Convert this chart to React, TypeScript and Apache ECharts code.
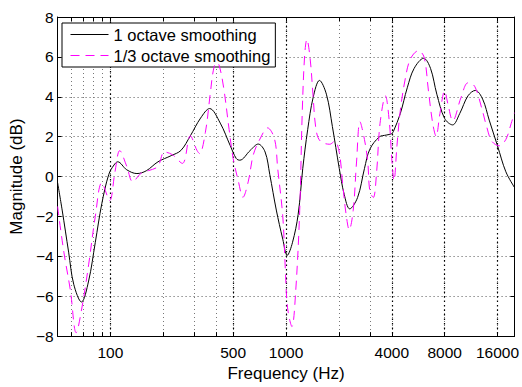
import React, { useEffect, useRef } from "react";
import * as echarts from "echarts";

// 1 octave smoothing (frequency in Hz, magnitude in dB)
const freqOct = [50, 53.1, 57.8, 61.8, 68.4, 75.1, 82, 89.3, 97.8, 104.8, 110, 123.8, 141.5, 160, 186.6, 222, 252, 285, 326, 367, 422, 481, 521, 545, 625, 694, 760, 808, 880, 958, 1015, 1087, 1172, 1245, 1328, 1427, 1550, 1697, 1836, 2010, 2143, 2304, 2555, 2795, 3000, 3400, 3720, 4000, 4090, 4474, 4900, 5360, 6080, 6650, 7220, 8000, 8880, 9750, 10870, 11970, 13170, 14350, 16000, 17850, 20000];
const magOct = [-0.3, -1.68, -3.79, -5.4, -6.29, -5.24, -3.3, -1.36, 0.1, 0.58, 0.74, 0.34, 0.15, 0.29, 0.74, 1.05, 1.31, 2.04, 2.93, 3.41, 2.68, 1.55, 0.9, 0.82, 1.31, 1.63, 1.23, 0.1, -1.68, -3.14, -3.95, -3.32, -1.9, 0.4, 2.35, 3.97, 4.82, 4.13, 2.51, 0.4, -0.89, -1.62, -1.05, 0.4, 1.37, 1.99, 2.08, 2.15, 2.27, 3.16, 4.45, 5.42, 5.93, 5.42, 4.13, 2.91, 2.59, 3.16, 4.05, 4.32, 3.88, 2.83, 1.54, 0.24, -0.55];

// 1/3 octave smoothing
const freqThird = [50, 54.3, 59.2, 63.8, 68.9, 75.1, 82, 89.3, 99, 106, 113, 124, 134, 150, 165, 186, 203, 225, 257, 285, 311, 322, 347, 370, 385, 400, 415, 441, 474, 500, 535, 568, 610, 650, 710, 785, 860, 896, 958, 990, 1019, 1080, 1135, 1196, 1236, 1276, 1314, 1372, 1427, 1482, 1566, 1776, 1893, 2010, 2102, 2195, 2290, 2412, 2520, 2636, 2795, 2920, 3000, 3140, 3280, 3430, 3680, 3880, 4000, 4120, 4280, 4474, 4780, 5110, 5670, 6110, 6470, 6840, 7150, 7520, 8000, 8350, 8900, 9920, 10870, 11850, 12960, 13870, 14830, 16350, 17850, 19150, 20000];
const magThird = [-1.5, -3.79, -5.73, -7.83, -6.54, -4.43, -2.0, -0.31, -1.2, 0.2, 1.3, 0.5, -0.26, 0.18, 0.3, 0.5, 1.23, 1.1, 0.66, 2.04, 1.31, 1.15, 2.2, 4.14, 5.3, 5.7, 5.6, 4.47, 2.36, 0.9, -0.23, -1.04, -0.23, 1.07, 1.88, 2.44, 1.88, 0.42, -2.0, -4.6, -6.55, -7.52, -5.74, -1.7, 3.16, 6.07, 6.88, 5.9, 3.97, 2.35, 1.78, 1.62, 1.78, 1.21, -0.4, -1.86, -2.67, -1.7, 0.73, 2.75, 1.86, 0.73, -0.73, -1.05, 0.24, 2.67, 4.04, 2.67, 0.89, -0.2, 1.54, 3.32, 4.93, 5.9, 6.31, 5.99, 4.29, 2.67, 2.02, 3.16, 4.29, 3.64, 2.8, 3.97, 4.7, 4.53, 3.48, 2.51, 1.78, 1.54, 1.86, 2.67, 3.2];

const xLabelTicks = [100, 500, 1000, 4000, 8000, 16000];
const xGridTicks = [60, 70, 80, 90, 100, 200, 300, 400, 500, 1000, 2000, 3000, 4000, 8000, 16000];
const xMin = 50;
const xMax = 20000;
const yMin = -8;
const yMax = 8;
const yStep = 2;

const seriesNames = ["1 octave smoothing", "1/3 octave smoothing"];
const xTitle = "Frequency (Hz)";
const yTitle = "Magnitude (dB)";

const FONT = "Liberation Sans";

export default function App() {
  const ref = useRef<HTMLDivElement>(null);
  useEffect(() => {
    const chart = echarts.init(ref.current!, null, { renderer: "svg" });
    const lg = (v: number) => Math.log10(v);
    const xBase = { type: "value", min: lg(xMin), max: lg(xMax), gridIndex: 0 };
    const fmtX = (v: number) => String(Math.round(Math.pow(10, v)));
    const fmtY = (v: number) => (v < 0 ? "\u2212" + Math.abs(v) : String(v));
    const axisLine = { show: true, onZero: false, lineStyle: { color: "#000", width: 1 } };
    const tick = { show: true, inside: true, length: 4, customValues: xGridTicks.map(lg), lineStyle: { color: "#000", width: 1 } };
    const option: any = {
      animation: false,
      backgroundColor: "#fff",
      grid: { left: 56, right: 5, top: 17, bottom: 39, containLabel: false },
      legend: {
        left: 62,
        top: 23,
        orient: "vertical",
        itemWidth: 38,
        itemHeight: 14,
        itemGap: 4,
        padding: [3, 5, 3, 8],
        borderColor: "#000",
        borderWidth: 1,
        backgroundColor: "#fff",
        selectedMode: false,
        itemStyle: { opacity: 0 },
        lineStyle: { width: 1 },
        textStyle: { fontSize: 16.5, color: "#000", fontFamily: FONT },
        data: seriesNames,
      },
      xAxis: [
        {
          ...xBase,
          position: "bottom",
          axisLine,
          axisTick: tick,
          axisLabel: { customValues: xLabelTicks.map(lg), formatter: fmtX, margin: 8, color: "#000", fontSize: 15.5, fontFamily: FONT },
          splitLine: { show: true, lineStyle: { color: "#777", type: [1, 3], width: 1 } },
          name: xTitle,
          nameLocation: "middle",
          nameGap: 26,
          nameTextStyle: { fontSize: 17, color: "#000", fontFamily: FONT },
        },
        {
          ...xBase,
          position: "top",
          axisLine,
          axisTick: tick,
          axisLabel: { show: false },
          splitLine: { show: false },
        },
        {
          ...xBase,
          position: "bottom",
          axisLine: { show: false },
          axisTick: { show: false, customValues: xLabelTicks.map(lg) },
          axisLabel: { show: false },
          splitLine: { show: true, lineStyle: { color: "#000", type: [1.5, 3], width: 1.2 } },
        },
      ],
      yAxis: [
        {
          type: "value",
          min: yMin,
          max: yMax,
          interval: yStep,
          position: "left",
          axisLine,
          axisTick: { show: true, inside: true, length: 4, lineStyle: { color: "#000" } },
          axisLabel: { formatter: fmtY, margin: 4, color: "#000", fontSize: 15.5, fontFamily: FONT },
          splitLine: { show: true, lineStyle: { color: "#555", type: [1, 3], width: 1 } },
          name: yTitle,
          nameLocation: "middle",
          nameGap: 28,
          nameRotate: 90,
          nameTextStyle: { fontSize: 17, color: "#000", fontFamily: FONT },
        },
        {
          type: "value",
          min: yMin,
          max: yMax,
          interval: yStep,
          position: "right",
          axisLine,
          axisTick: { show: true, inside: true, length: 4, lineStyle: { color: "#000" } },
          axisLabel: { show: false },
          splitLine: { show: false },
        },
      ],
      series: [
        {
          name: seriesNames[0],
          type: "line",
          xAxisIndex: 0,
          yAxisIndex: 0,
          data: freqOct.map((f, i) => [lg(f), magOct[i]]),
          symbol: "none",
          showSymbol: false,
          smooth: 0.35,
          lineStyle: { color: "#000", width: 1 },
          itemStyle: { color: "#000" },
          z: 3,
        },
        {
          name: seriesNames[1],
          type: "line",
          xAxisIndex: 0,
          yAxisIndex: 0,
          data: freqThird.map((f, i) => [lg(f), magThird[i]]),
          symbol: "none",
          showSymbol: false,
          smooth: 0.35,
          lineStyle: { color: "#ff00ff", width: 1, type: [9, 6] },
          itemStyle: { color: "#ff00ff" },
          z: 4,
        },
      ],
    };
    chart.setOption(option);
    return () => chart.dispose();
  }, []);
  return <div ref={ref} style={{ position: "fixed", left: 0, top: 0, width: 522, height: 387 }} />;
}
